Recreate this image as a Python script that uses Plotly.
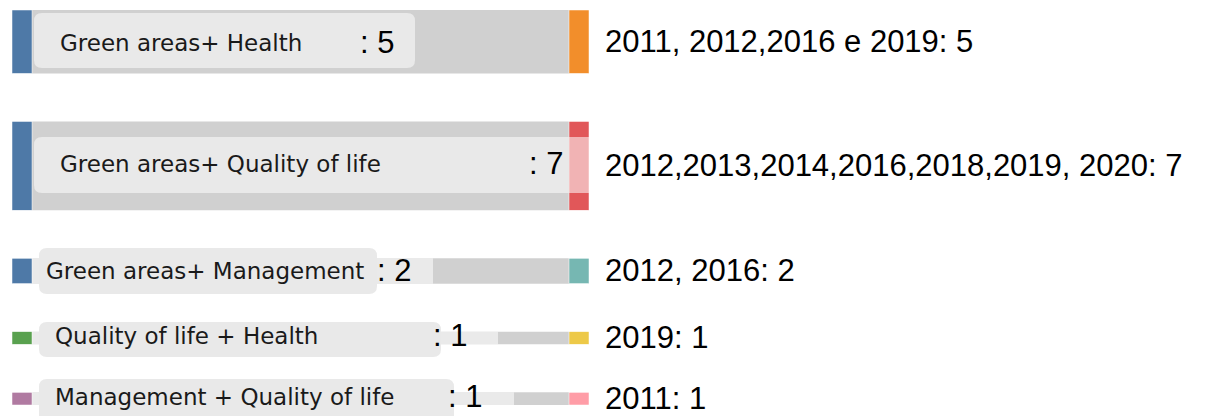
import plotly.graph_objects as go

# ---------------- data ----------------
pairs = ["Green areas+ Health", "Green areas+ Quality of life", "Green areas+ Management",
         "Quality of life + Health", "Management + Quality of life"]
counts = [5, 7, 2, 1, 1]
years = ["2011, 2012,2016 e 2019", "2012,2013,2014,2016,2018,2019, 2020", "2012, 2016",
         "2019", "2011"]
left_colors = ["#4e79a7", "#4e79a7", "#4e79a7", "#59a14f", "#b07aa1"]
right_colors = ["#f28e2b", "#e15759", "#76b7b2", "#edc948", "#ff9da7"]

# ---------------- layout constants (page pixels) ----------------
OFF = 8                      # default page body margin
W, H = 1208, 408             # figure size
TOP, BOTTOM = 10, 405
LEFT, RIGHT = 12, 589
PAD = 48
THICK = 20


def px(x):
    return (x - OFF) / W


def py(y):
    return 1 - (y - OFF) / H


n = len(counts)
labels = pairs + [f"{y}: {c}" for y, c in zip(years, counts)]
fig = go.Figure(go.Sankey(
    arrangement="fixed",
    domain=dict(x=[px(LEFT), px(RIGHT)], y=[py(BOTTOM), py(TOP)]),
    node=dict(label=labels, color=left_colors + right_colors, pad=PAD, thickness=THICK,
              line=dict(color="white", width=0.5)),
    link=dict(source=list(range(n)), target=[i + n for i in range(n)], value=counts,
              color=["#d0d0d0"] * n),
    textfont=dict(color="rgba(0,0,0,0)", size=1),
))

# row geometry derived from the sankey scale
ky = ((BOTTOM - TOP) - (n - 1) * PAD) / sum(counts)
rows = []
y = TOP
for c in counts:
    rows.append((y, y + c * ky))
    y += c * ky + PAD


def rrect(x0, y0, x1, y1, r=8):
    rx, ry = r / W, r / H
    X0, X1 = px(x0), px(x1)
    Y0, Y1 = py(y0), py(y1)
    return (f"M {X0+rx},{Y0} L {X1-rx},{Y0} Q {X1},{Y0} {X1},{Y0-ry} "
            f"L {X1},{Y1+ry} Q {X1},{Y1} {X1-rx},{Y1} L {X0+rx},{Y1} "
            f"Q {X0},{Y1} {X0},{Y1+ry} L {X0},{Y0-ry} Q {X0},{Y0} {X0+rx},{Y0} Z")


shapes = []
BOXC = "#e9e9e9"
band_ends = [None, None, 433, 498, 514]
for (y0, y1), be in zip(rows, band_ends):
    if be:
        shapes.append(dict(type="rect", xref="paper", yref="paper", x0=px(LEFT + THICK), x1=px(be),
                           y0=py(y1), y1=py(y0), fillcolor="rgba(255,255,255,0.55)",
                           line=dict(width=0), layer="above"))
boxes = [(34, 13, 415, 68), (34, 137, 569, 193), (39, 248, 377, 294),
         (39, 322, 441, 357), (39, 379, 454, 430)]
for (x0, y0, x1, y1) in boxes:
    shapes.append(dict(type="path", xref="paper", yref="paper", path=rrect(x0, y0, x1, y1),
                       fillcolor=BOXC, line=dict(width=0), layer="above"))
shapes.append(dict(type="rect", xref="paper", yref="paper", x0=px(555), x1=px(569),
                   y0=py(193), y1=py(137), fillcolor=BOXC, line=dict(width=0), layer="above"))
shapes.append(dict(type="rect", xref="paper", yref="paper", x0=px(569), x1=px(589),
                   y0=py(193), y1=py(137), fillcolor="rgba(255,255,255,0.55)",
                   line=dict(width=0), layer="above"))

NUMFONT = "Liberation Sans, Arial, sans-serif"
BOXFONT = "DejaVu Sans, sans-serif"
text_x = [58, 58, 44, 53, 53]
text_dy = [1, -2, 0, -2, -2]
num_right = [396, 565, 413, 469, 484]
annotations = []
for i, ((y0, y1), p, c, yr) in enumerate(zip(rows, pairs, counts, years)):
    cy = (y0 + y1) / 2
    annotations.append(dict(xref="paper", yref="paper", x=px(text_x[i]), y=py(cy + text_dy[i]),
                            xanchor="left", yanchor="middle", text=p, showarrow=False,
                            font=dict(family=BOXFONT, size=23, color="#1a1a1a")))
    annotations.append(dict(xref="paper", yref="paper", x=px(num_right[i]), y=py(cy + text_dy[i]),
                            xanchor="right", yanchor="middle", text=f": {c}", showarrow=False,
                            font=dict(family=NUMFONT, size=31, color="#000000")))
    annotations.append(dict(xref="paper", yref="paper", x=px(603), y=py(cy),
                            xanchor="left", yanchor="middle", text=f"{yr}: {c}", showarrow=False,
                            font=dict(family=NUMFONT, size=31, color="#000000")))

fig.update_layout(width=W, height=H, margin=dict(l=0, r=0, t=0, b=0),
                  paper_bgcolor="white", plot_bgcolor="white",
                  shapes=shapes, annotations=annotations, showlegend=False)
fig.write_html("out.html")
